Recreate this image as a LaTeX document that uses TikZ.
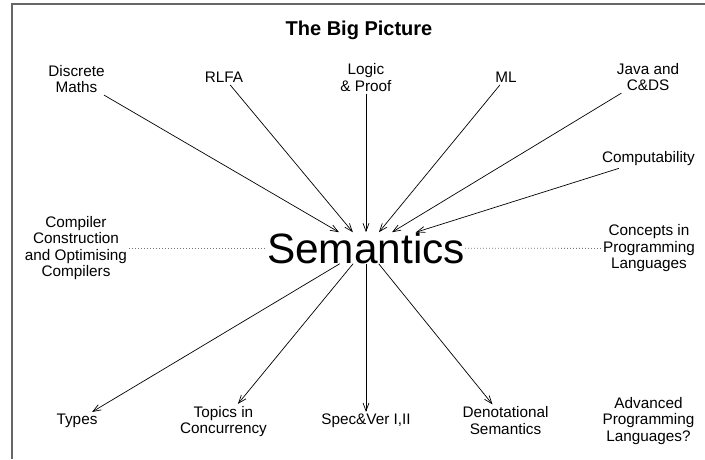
\documentclass[tikz,border=0pt]{standalone}
\usepackage{fontspec}
\setmainfont{Liberation Sans}
\usepackage{tikz}
\usetikzlibrary{arrows.meta}
\newcommand{\labelFont}[0]{\fontsize{15.3}{16.5}\selectfont}
\newcommand{\linkWidth}[0]{0.7pt}
\newcommand{\frameColour}[0]{black!60}

\begin{document}
\begin{tikzpicture}[x=1pt, y=-1pt]
  \tikzset{course/.style={align=center, inner sep=2pt, font=\labelFont},
    link/.style={line width=\linkWidth, >={Straight Barb[length=8pt,width=6pt]}},
    related/.style={line width=0.8pt, black!55, dash pattern=on 0.8pt off 2.2pt}}
  \useasboundingbox (0,0) rectangle (705,459);
  \draw[\frameColour, line width=1.5pt] (705,4) -- (12,4) -- (12,459);
  \node[font=\bfseries\fontsize{20}{24}\selectfont, anchor=base] (Title-1-1) at (359,35) {The Big Picture};
  \node[inner sep=0pt, font=\fontsize{42.4}{48}\selectfont] (Sem-1-1) at (366,248) {Semantics};
  \node[course] (Discrete-1-1) at (76.5,79) {Discrete\\Maths};
  \node[course] (RLFA-1-1) at (224,77.5) {RLFA};
  \node[course] (Logic-1-1) at (366,77.5) {Logic\\\& Proof};
  \node[course] (ML-1-1) at (506,77.5) {ML};
  \node[course] (Java-1-1) at (648,77) {Java and\\C\&DS};
  \node[course] (Comp-1-1) at (648.5,159) {Computability};
  \node[course] (Compiler-1-1) at (76,248) {Compiler\\Construction\\and Optimising\\Compilers};
  \node[course] (Concepts-1-1) at (649,248.5) {Concepts in\\Programming\\Languages};
  \node[course] (Types-1-1) at (77,421) {Types};
  \node[course] (Topics-1-1) at (223.5,421.5) {Topics in\\Concurrency};
  \node[course] (Spec-1-1) at (366,421) {Spec\&Ver I,II};
  \node[course] (Denot-1-1) at (505.5,420.5) {Denotational\\Semantics};
  \node[course] (Adv-1-1) at (648.5,421) {Advanced\\Programming\\Languages?};
  \draw[link, ->] (Discrete-1-1) -- (Sem-1-1);
  \draw[link, ->] (RLFA-1-1) -- (Sem-1-1);
  \draw[link, ->] (Logic-1-1) -- (Sem-1-1);
  \draw[link, ->] (ML-1-1) -- (Sem-1-1);
  \draw[link, ->] (Java-1-1) -- (Sem-1-1);
  \draw[link, ->] (Comp-1-1) -- (Sem-1-1);
  \draw[link, ->] (Sem-1-1) -- (Types-1-1);
  \draw[link, ->] (Sem-1-1) -- (Topics-1-1);
  \draw[link, ->] (Sem-1-1) -- (Spec-1-1);
  \draw[link, ->] (Sem-1-1) -- (Denot-1-1);
  \draw[related] (Compiler-1-1) -- (Sem-1-1);
  \draw[related] (Sem-1-1) -- (Concepts-1-1);
\end{tikzpicture}
\end{document}
